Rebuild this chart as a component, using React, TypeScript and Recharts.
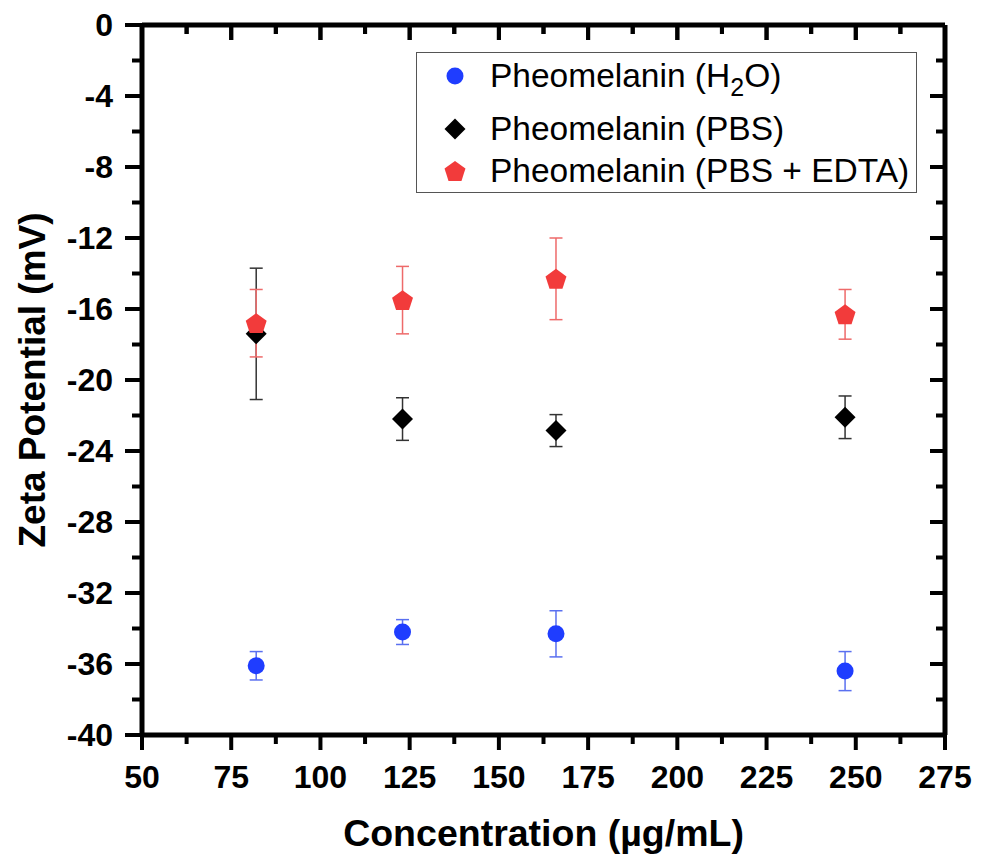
import React from 'react';
import { ScatterChart, Scatter, XAxis, YAxis, ErrorBar, Legend, Label } from 'recharts';

const concentrations = [82, 123, 166, 247];
const h2oValues = [-36.1, -34.2, -34.3, -36.4];
const h2oErrors = [0.8, 0.7, 1.3, 1.1];
const pbsValues = [-17.4, -22.2, -22.85, -22.1];
const pbsErrors = [3.7, 1.2, 0.9, 1.2];
const edtaValues = [-16.8, -15.5, -14.3, -16.3];
const edtaErrors = [1.9, 1.9, 2.3, 1.4];

const xMajorTicks = [50, 75, 100, 125, 150, 175, 200, 225, 250, 275];
const xMinorTicks = [62.5, 87.5, 112.5, 137.5, 162.5, 187.5, 212.5, 237.5, 262.5];
const yMajorTicks = [0, -4, -8, -12, -16, -20, -24, -28, -32, -36, -40];
const yMinorTicks = [-2, -6, -10, -14, -18, -22, -26, -30, -34, -38];

const seriesNames = ['Pheomelanin (H2O)', 'Pheomelanin (PBS)', 'Pheomelanin (PBS + EDTA)'];

const BLUE = '#1f3dff';
const BLUE_ERR = '#5a70f0';
const BLACK = '#000000';
const BLACK_ERR = '#333333';
const RED = '#f23b3b';
const RED_ERR = '#ee6a6a';

const FONT = '"Liberation Sans", Arial, Helvetica, sans-serif';

const h2oData = concentrations.map((c, i) => ({ x: c, y: h2oValues[i], err: h2oErrors[i] }));
const pbsData = concentrations.map((c, i) => ({ x: c, y: pbsValues[i], err: pbsErrors[i] }));
const edtaData = concentrations.map((c, i) => ({ x: c, y: edtaValues[i], err: edtaErrors[i] }));

const xTicks = [...xMajorTicks, ...xMinorTicks].sort((a, b) => a - b);
const yTicks = [...yMajorTicks, ...yMinorTicks].sort((a, b) => a - b);

// top-edge tick anchors (at the top of the y domain)
const topTickData = xTicks.map((v) => ({ x: v, y: 0, major: xMajorTicks.includes(v) }));

const MAJOR = 15;
const MINOR = 9;
const LEFT_MAJOR = 17;
const LEFT_MINOR = 10;
const TW = 5;
const TICKW = 4;

const BottomTick = (props: any) => {
  const { x, y, payload } = props;
  const major = xMajorTicks.includes(payload.value);
  return (
    <g>
      <line x1={x} x2={x} y1={y} y2={y + (major ? MAJOR : MINOR)} stroke="#000" strokeWidth={TICKW} />
      {major && (
        <text x={x} y={y + 42} textAnchor="middle" dominantBaseline="central" fontSize={32} fontWeight="bold" fontFamily={FONT} fill="#000">
          {payload.value}
        </text>
      )}
    </g>
  );
};

const TopTick = (props: any) => {
  const { x, y, payload } = props;
  const major = xMajorTicks.includes(payload.value);
  return (
    <g>
      <line x1={x} x2={x} y1={y} y2={y + (major ? MAJOR : MINOR)} stroke="#000" strokeWidth={TICKW} />
    </g>
  );
};

const TopTickMark = (props: any) => {
  const { cx, cy, payload } = props;
  const major = payload && payload.major;
  return <line x1={cx} x2={cx} y1={cy} y2={cy + (major ? MAJOR : MINOR)} stroke="#000" strokeWidth={TICKW} />;
};

const LeftTick = (props: any) => {
  const { x, y, payload } = props;
  const major = yMajorTicks.includes(payload.value);
  return (
    <g>
      <line x1={x} x2={x - (major ? LEFT_MAJOR : LEFT_MINOR)} y1={y} y2={y} stroke="#000" strokeWidth={TICKW} />
      {major && (
        <text x={x - 29} y={y} textAnchor="end" dominantBaseline="central" fontSize={32} fontWeight="bold" fontFamily={FONT} fill="#000">
          {payload.value}
        </text>
      )}
    </g>
  );
};

const RightTick = (props: any) => {
  const { x, y, payload } = props;
  const major = yMajorTicks.includes(payload.value);
  return (
    <g>
      <line x1={x} x2={x - (major ? MAJOR : MINOR)} y1={y} y2={y} stroke="#000" strokeWidth={TICKW} />
    </g>
  );
};

const CircleShape = (props: any) => {
  const { cx, cy } = props;
  return <circle cx={cx} cy={cy} r={8.5} fill={BLUE} />;
};

const DiamondShape = (props: any) => {
  const { cx, cy } = props;
  const s = 10.5;
  return <polygon points={`${cx},${cy - s} ${cx + s},${cy} ${cx},${cy + s} ${cx - s},${cy}`} fill={BLACK} />;
};

const NoShape = () => <g />;

const pentagonPoints = (cx: number, cy: number, r: number) => {
  const pts: string[] = [];
  for (let k = 0; k < 5; k++) {
    const a = -Math.PI / 2 + (k * 2 * Math.PI) / 5;
    pts.push(`${cx + r * Math.cos(a)},${cy + r * Math.sin(a)}`);
  }
  return pts.join(' ');
};

const PentagonShape = (props: any) => {
  const { cx, cy } = props;
  return <polygon points={pentagonPoints(cx, cy + 1, 11)} fill={RED} />;
};

const LegendContent = () => {
  const rowStyle: React.CSSProperties = {
    position: 'absolute',
    left: 0,
    height: 40,
    display: 'flex',
    alignItems: 'center',
    fontFamily: FONT,
    fontSize: 33.5,
    color: '#000',
    whiteSpace: 'nowrap',
  };
  const icon = (kind: string) => (
    <svg width={24} height={24} style={{ position: 'absolute', left: 26 }}>
      {kind === 'circle' && <circle cx={12} cy={12} r={8.5} fill={BLUE} />}
      {kind === 'diamond' && <polygon points="12,1.5 22.5,12 12,22.5 1.5,12" fill={BLACK} />}
      {kind === 'pentagon' && <polygon points={pentagonPoints(12, 13, 11)} fill={RED} />}
    </svg>
  );
  return (
    <div style={{ position: 'relative', width: 501, height: 141, border: '1.5px solid #555', boxSizing: 'border-box', background: '#fff' }}>
      <div style={{ ...rowStyle, top: 3 }}>
        {icon('circle')}
        <span style={{ position: 'absolute', left: 73 }}>
          Pheomelanin (H<sub style={{ fontSize: 25, verticalAlign: -9, lineHeight: 0 }}>2</sub>O)
        </span>
      </div>
      <div style={{ ...rowStyle, top: 56 }}>
        {icon('diamond')}
        <span style={{ position: 'absolute', left: 73 }}>{seriesNames[1]}</span>
      </div>
      <div style={{ ...rowStyle, top: 98 }}>
        {icon('pentagon')}
        <span style={{ position: 'absolute', left: 73 }}>{seriesNames[2]}</span>
      </div>
    </div>
  );
};

const YTitle = (props: any) => {
  const { viewBox } = props;
  const cx = 32;
  const cy = viewBox.y + viewBox.height / 2;
  return (
    <text x={cx} y={cy} transform={`rotate(-90, ${cx}, ${cy})`} textAnchor="middle" dominantBaseline="central" fontSize={37} fontWeight="bold" fontFamily={FONT} fill="#000">
      Zeta Potential (mV)
    </text>
  );
};

const XTitle = (props: any) => {
  const { viewBox } = props;
  const cx = viewBox.x + viewBox.width / 2;
  const cy = viewBox.y + 98;
  return (
    <text x={cx} y={cy} textAnchor="middle" dominantBaseline="central" fontSize={37.5} fontWeight="bold" fontFamily={FONT} fill="#000">
      Concentration (µg/mL)
    </text>
  );
};

export default function App() {
  return (
    <div style={{ position: 'absolute', left: 0, top: 0, width: 990, height: 855, background: '#fff' }}>
      <ScatterChart width={990} height={855} margin={{ top: 24, right: 44, bottom: 0, left: 0 }}>
        <XAxis
          xAxisId="bottom"
          dataKey="x"
          type="number"
          domain={[50, 275]}
          ticks={xTicks}
          interval={0}
          allowDataOverflow
          height={120}
          axisLine={{ stroke: '#000', strokeWidth: TW }}
          tickLine={false}
          tickSize={0}
          tickMargin={0}
          tick={<BottomTick />}
        >
          <Label content={<XTitle />} />
        </XAxis>
        <XAxis
          xAxisId="top"
          orientation="top"
          dataKey="x"
          type="number"
          domain={[50, 275]}
          ticks={xTicks}
          interval={0}
          allowDataOverflow
          height={1}
          axisLine={{ stroke: '#000', strokeWidth: TW }}
          tickLine={false}
          tickSize={0}
          tickMargin={0}
          tick={<TopTick />}
        />
        <YAxis
          yAxisId="left"
          dataKey="y"
          type="number"
          domain={[-40, 0]}
          ticks={yTicks}
          interval={0}
          allowDataOverflow
          width={142}
          axisLine={{ stroke: '#000', strokeWidth: TW }}
          tickLine={false}
          tickSize={0}
          tickMargin={0}
          tick={<LeftTick />}
        >
          <Label content={<YTitle />} />
        </YAxis>
        <YAxis
          yAxisId="right"
          orientation="right"
          dataKey="y"
          type="number"
          domain={[-40, 0]}
          ticks={yTicks}
          interval={0}
          allowDataOverflow
          width={1}
          axisLine={{ stroke: '#000', strokeWidth: TW }}
          tickLine={false}
          tickSize={0}
          tickMargin={0}
          tick={<RightTick />}
        />
        <Legend
          layout="vertical"
          align="center"
          verticalAlign="middle"
          wrapperStyle={{ left: 416, top: 52, width: 501, height: 141 }}
          content={<LegendContent />}
        />
        <Scatter data={h2oData} xAxisId="top" yAxisId="right" shape={<NoShape />} legendType="none" isAnimationActive={false} />
        <Scatter data={topTickData} xAxisId="bottom" yAxisId="left" shape={<TopTickMark />} legendType="none" isAnimationActive={false} />
        <Scatter name={seriesNames[1]} data={pbsData} xAxisId="bottom" yAxisId="left" shape={<DiamondShape />} fill={BLACK} isAnimationActive={false}>
          <ErrorBar dataKey="err" direction="y" stroke={BLACK_ERR} strokeWidth={1.5} width={6.5} />
        </Scatter>
        <Scatter name={seriesNames[2]} data={edtaData} xAxisId="bottom" yAxisId="left" shape={<PentagonShape />} fill={RED} isAnimationActive={false}>
          <ErrorBar dataKey="err" direction="y" stroke={RED_ERR} strokeWidth={1.5} width={6.5} />
        </Scatter>
        <Scatter name={seriesNames[0]} data={h2oData} xAxisId="bottom" yAxisId="left" shape={<CircleShape />} fill={BLUE} isAnimationActive={false}>
          <ErrorBar dataKey="err" direction="y" stroke={BLUE_ERR} strokeWidth={1.5} width={6.5} />
        </Scatter>
      </ScatterChart>
    </div>
  );
}
